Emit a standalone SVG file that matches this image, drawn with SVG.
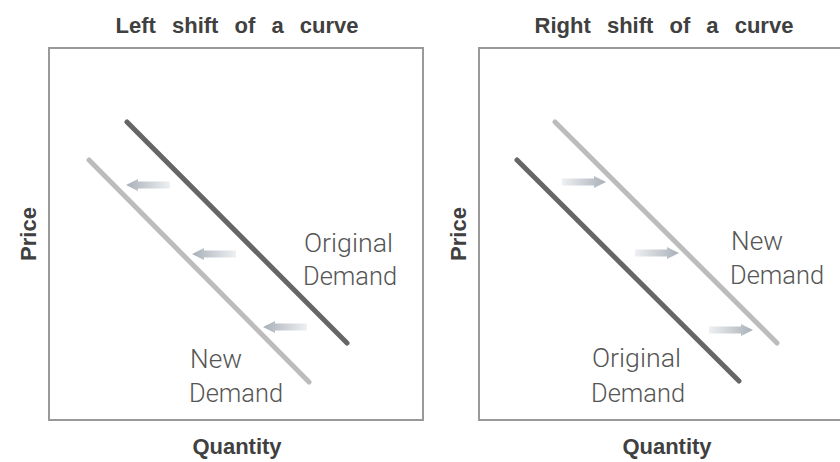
<svg xmlns="http://www.w3.org/2000/svg" width="840" height="462" viewBox="0 0 840 462">
<style>
.title{font-family:"Liberation Sans",Arial,sans-serif;font-size:22px;font-weight:bold;fill:#404040;word-spacing:10px}
.axis{font-family:"Liberation Sans",Arial,sans-serif;font-size:22px;font-weight:bold;fill:#404040}
.lbl{font-family:"Roboto","Liberation Sans",sans-serif;font-weight:300;font-size:26px;fill:#555}
.box{fill:#fff;stroke:#999;stroke-width:2}
.dark{stroke:#666;stroke-width:5;stroke-linecap:round}
.light{stroke:#bcbcbc;stroke-width:5;stroke-linecap:round}
</style>
<defs>
<linearGradient id="gl" x1="0" x2="1"><stop offset="0" stop-color="#a8b0b8"/><stop offset="1" stop-color="#eef0f2"/></linearGradient>
<linearGradient id="gr" x1="0" x2="1"><stop offset="0" stop-color="#eef0f2"/><stop offset="1" stop-color="#a8b0b8"/></linearGradient>
<path id="al" d="M0,0 L12,-6 L12,-3.5 L44,-3.5 L44,3.5 L12,3.5 L12,6 Z" fill="url(#gl)"/>
<path id="ar" d="M0,0 L-12,-6 L-12,-3.5 L-44,-3.5 L-44,3.5 L-12,3.5 L-12,6 Z" fill="url(#gr)"/>
</defs>
<rect width="840" height="462" fill="#fff"/>
<g id="left-panel">
<text class="title" x="237" y="33" text-anchor="middle">Left shift of a curve</text>
<rect class="box" x="49" y="48" width="374" height="372"/>
<text class="axis" transform="translate(36,234) rotate(-90)" text-anchor="middle">Price</text>
<text class="axis" x="237" y="454" text-anchor="middle">Quantity</text>
</g>
<g id="right-panel">
<text class="title" x="664" y="33" text-anchor="middle">Right shift of a curve</text>
<rect class="box" x="479" y="48" width="380" height="372"/>
<text class="axis" transform="translate(466,234) rotate(-90)" text-anchor="middle">Price</text>
<text class="axis" x="667" y="454" text-anchor="middle">Quantity</text>
</g>
<g id="left-original">
<line class="dark" x1="127" y1="122" x2="347" y2="343"/>
<text class="lbl" x="304" y="252" textLength="89" lengthAdjust="spacingAndGlyphs">Original</text>
<text class="lbl" x="303" y="285" textLength="94" lengthAdjust="spacingAndGlyphs">Demand</text>
</g>
<g id="left-new">
<line class="light" x1="89" y1="160" x2="309" y2="382"/>
<text class="lbl" x="190" y="368" textLength="52" lengthAdjust="spacingAndGlyphs">New</text>
<text class="lbl" x="189" y="402" textLength="94" lengthAdjust="spacingAndGlyphs">Demand</text>
</g>
<g id="right-new">
<line class="light" x1="555" y1="122" x2="777" y2="343"/>
<text class="lbl" x="731" y="250" textLength="52" lengthAdjust="spacingAndGlyphs">New</text>
<text class="lbl" x="730" y="284" textLength="94" lengthAdjust="spacingAndGlyphs">Demand</text>
</g>
<g id="right-original">
<line class="dark" x1="517" y1="160" x2="739" y2="381"/>
<text class="lbl" x="592" y="367" textLength="89" lengthAdjust="spacingAndGlyphs">Original</text>
<text class="lbl" x="591" y="402" textLength="94" lengthAdjust="spacingAndGlyphs">Demand</text>
</g>
<g id="connectors">
<use href="#al" x="126" y="185"/>
<use href="#al" x="192" y="254"/>
<use href="#al" x="263" y="327"/>
<use href="#ar" x="606" y="182"/>
<use href="#ar" x="679" y="253"/>
<use href="#ar" x="753" y="330"/>
</g>
</svg>
